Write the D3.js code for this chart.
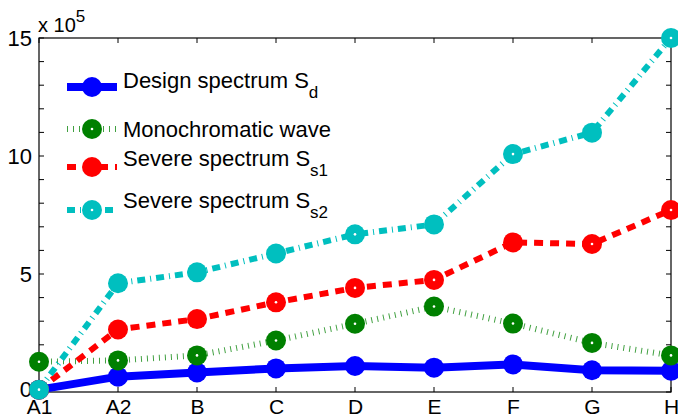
<!DOCTYPE html>
<html><head><meta charset="utf-8">
<script src="https://cdn.jsdelivr.net/npm/d3@7"></script>
<style>body{margin:0;background:#fff}svg{display:block;font-family:"Liberation Sans",Arial,sans-serif}</style>
</head><body>
<script>
const categories = ["A1","A2","B","C","D","E","F","G","H"];
const designSd = [0.1,0.65,0.83,1.0,1.1,1.03,1.17,0.92,0.9];
const mono = [1.28,1.34,1.55,2.18,2.89,3.62,2.9,2.08,1.55];
const severeSs1 = [0.1,2.65,3.09,3.8,4.41,4.75,6.34,6.27,7.71];
const severeSs2 = [0.1,4.61,5.07,5.87,6.68,7.1,10.08,10.99,15.0];
const yTicks = [0,5,10,15];
const seriesNames = ["Design spectrum S","Monochromatic wave","Severe spectrum S","Severe spectrum S"];
const seriesSubs = ["d","","s1","s2"];
const dotFlags = [
  [0,0,0,0,0,0,0,0,0],
  [1,1,1,1,1,1,1,1,1],
  [0,0,0,1,1,1,0,1,1],
  [1,0,0,0,1,0,1,0,1]
];

const W=678,H=420;
const m={l:39,r:7,t:38,b:28};
const FS=22;
const svg=d3.select("body").append("svg").attr("width",W).attr("height",H);
const x=d3.scalePoint().domain(categories).range([m.l,W-m.r]);
const y=d3.scaleLinear().domain([0,15]).range([H-m.b,m.t]);

const styles=[
  {color:"#0000ff",w:8,dash:null,op:1},
  {color:"#008000",w:6,dash:"1,5",op:0.75},
  {color:"#ff0000",w:6,dash:"9,7",op:1},
  {color:"#00bfbf",w:6,dash:"8,5,1,5",op:1}
];
const data=[designSd,mono,severeSs1,severeSs2];

// axes box
const g=svg.append("g");
g.append("rect").attr("x",m.l).attr("y",m.t).attr("width",W-m.r-m.l).attr("height",H-m.b-m.t)
 .attr("fill","none").attr("stroke","#000").attr("stroke-width",1.2);
const minor=d3.range(0,16);
const tl=5;
minor.forEach(v=>{
  g.append("line").attr("x1",m.l).attr("x2",m.l+tl).attr("y1",y(v)).attr("y2",y(v)).attr("stroke","#000");
  g.append("line").attr("x1",W-m.r).attr("x2",W-m.r-tl).attr("y1",y(v)).attr("y2",y(v)).attr("stroke","#000");
});
categories.forEach(c=>{
  g.append("line").attr("x1",x(c)).attr("x2",x(c)).attr("y1",H-m.b).attr("y2",H-m.b-tl).attr("stroke","#000");
  g.append("line").attr("x1",x(c)).attr("x2",x(c)).attr("y1",m.t).attr("y2",m.t+tl).attr("stroke","#000");
});
const ax=d3.axisLeft(y).tickValues(yTicks).tickSize(0).tickPadding(7);
svg.append("g").attr("transform",`translate(${m.l},0)`).call(ax)
  .call(s=>{s.select(".domain").remove();s.selectAll("text").attr("font-size",FS).attr("fill","#000").attr("font-family","Liberation Sans, Arial, sans-serif");
    s.selectAll(".tick").filter(d=>d===0).select("text").attr("dy","0.2em");});
const bx=d3.axisBottom(x).tickSize(0).tickPadding(7);
svg.append("g").attr("transform",`translate(0,${H-m.b})`).call(bx)
  .call(s=>{s.select(".domain").remove();s.selectAll("text").attr("font-size",21).attr("fill","#000").attr("font-family","Liberation Sans, Arial, sans-serif");});

// exponent label
const ex=svg.append("text").attr("x",38).attr("y",32).attr("font-size",20).attr("fill","#000");
ex.append("tspan").text("x 10");
ex.append("tspan").attr("dy",-10).attr("font-size",17).text("5");

const line=d3.line().x((d,i)=>x(categories[i])).y(d=>y(d));
data.forEach((vals,k)=>{
  const st=styles[k];
  const sg=svg.append("g");
  sg.append("path").attr("d",line(vals)).attr("fill","none").attr("stroke",st.color)
    .attr("stroke-width",st.w).attr("stroke-dasharray",st.dash).attr("stroke-opacity",st.op);
  sg.selectAll("circle.m").data(vals).join("circle").attr("class","m")
    .attr("cx",(d,i)=>x(categories[i])).attr("cy",d=>y(d)).attr("r",10).attr("fill",st.color);
  sg.selectAll("circle.d").data(vals.map((v,i)=>({v,i})).filter(o=>dotFlags[k][o.i])).join("circle").attr("class","d")
    .attr("cx",o=>x(categories[o.i])).attr("cy",o=>y(o.v)).attr("r",1.3).attr("fill","#fff");
});

// legend
const legLineY=[87,129,167,210];
const legTextY=[88,137,166,208];
const lx1=67,lx2=117,lxm=92;
seriesNames.forEach((n,k)=>{
  const st=styles[k];
  const yy=legLineY[k];
  svg.append("line").attr("x1",lx1).attr("x2",lx2).attr("y1",yy).attr("y2",yy).attr("stroke",st.color)
    .attr("stroke-width",st.w).attr("stroke-dasharray",st.dash).attr("stroke-opacity",st.op);
  svg.append("circle").attr("cx",lxm).attr("cy",yy).attr("r",10).attr("fill",st.color);
  if(k===1||k===3) svg.append("circle").attr("cx",lxm).attr("cy",yy).attr("r",1.3).attr("fill","#fff");
  const t=svg.append("text").attr("x",123).attr("y",legTextY[k]).attr("font-size",FS).attr("fill","#000");
  t.append("tspan").text(n);
  if(seriesSubs[k]) t.append("tspan").attr("dy",10).attr("font-size",17).text(seriesSubs[k]);
});
</script>
</body></html>
